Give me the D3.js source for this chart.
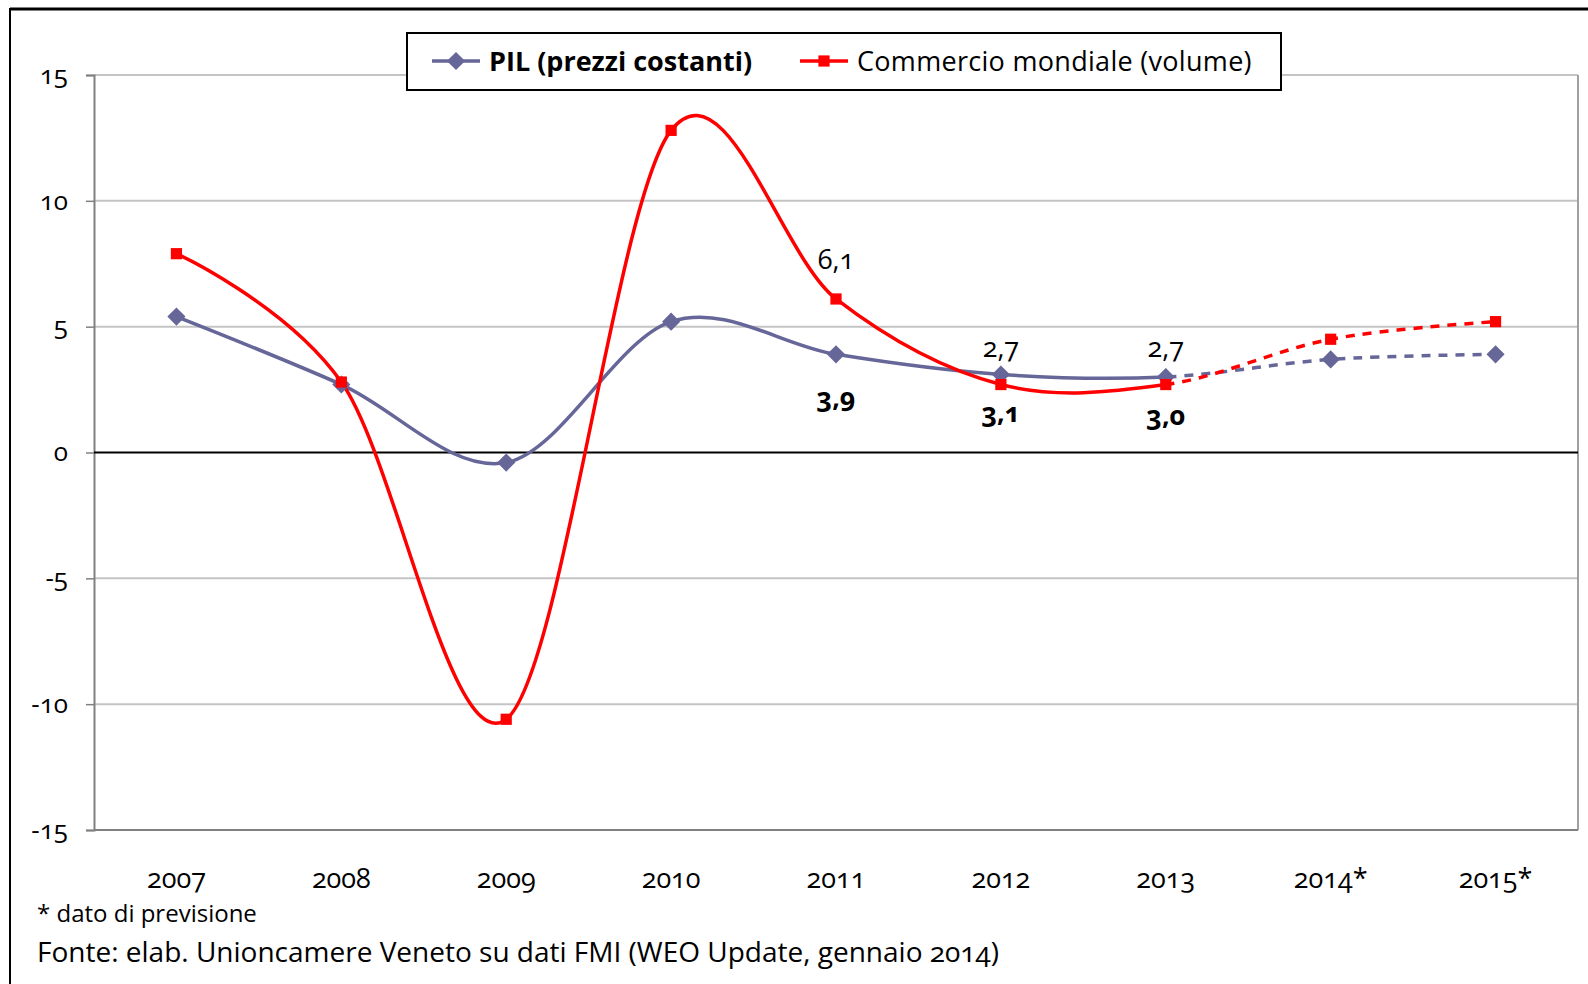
<!DOCTYPE html>
<html>
<head>
<meta charset="utf-8">
<script src="https://cdn.jsdelivr.net/npm/d3@7"></script>
<style>
    body { margin: 0; background: #fff; }
    svg { display: block; font-family: "Open Sans", "Lato", sans-serif; }
    .num { font-variant-numeric: oldstyle-nums; font-feature-settings: "onum"; }
</style>
</head>
<body>
<div id="vis"></div>
<script>
const years = ['2007', '2008', '2009', '2010', '2011', '2012', '2013', '2014*', '2015*'];
const pil = [5.4, 2.7, -0.4, 5.2, 3.9, 3.1, 3.0, 3.7, 3.9];
const commercio = [7.9, 2.8, -10.6, 12.8, 6.1, 2.7, 2.7, 4.5, 5.2];
const yTicks = [15, 10, 5, 0, -5, -10, -15];
const lastActual = '2013';  // after this the values are forecasts

// value labels as they sit in the picture (offset from their own point)
const labels = [
    { year: '2011', value: 6.1, bold: false, dy: -30 },
    { year: '2011', value: 3.9, bold: true, dy: 53 },
    { year: '2012', value: 2.7, bold: false, dy: -28 },
    { year: '2012', value: 3.1, bold: true, dy: 48 },
    { year: '2013', value: 2.7, bold: false, dy: -28 },
    { year: '2013', value: 3.0, bold: true, dy: 48 }
];

const W = 1588, H = 984;
const plot = { left: 94, right: 1578, top: 75, bottom: 830 };

const svg = d3.select('#vis')
    .append('svg')
    .attr('width', W)
    .attr('height', H);

const xScale = d3.scaleBand()
    .domain(years)
    .range([plot.left, plot.right]);
const xPos = d => xScale(d) + xScale.bandwidth() / 2;

const yScale = d3.scaleLinear()
    .domain([-15, 15])
    .range([plot.bottom, plot.top]);

// outer frame of the chart
svg.append('line')
    .attr('x1', 10).attr('x2', W).attr('y1', 9).attr('y2', 9)
    .attr('stroke', '#000').attr('stroke-width', 3);
svg.append('line')
    .attr('x1', 10).attr('x2', 10).attr('y1', 8).attr('y2', H)
    .attr('stroke', '#000').attr('stroke-width', 2);

// gridlines
svg.selectAll('.grid')
    .data(yTicks.filter(d => d !== 0 && d !== -15))
    .enter()
    .append('line')
    .attr('class', 'grid')
    .attr('x1', plot.left).attr('x2', plot.right)
    .attr('y1', d => yScale(d)).attr('y2', d => yScale(d))
    .attr('stroke', '#c4c4c4').attr('stroke-width', 2);

// right border of plot area
svg.append('line')
    .attr('x1', plot.right).attr('x2', plot.right)
    .attr('y1', plot.top).attr('y2', plot.bottom)
    .attr('stroke', '#a0a0a0').attr('stroke-width', 2);

// y axis
const yAxis = d3.axisLeft(yScale)
    .tickValues(yTicks)
    .tickSize(8)
    .tickPadding(18)
    .tickFormat(d => String(d));

const yG = svg.append('g')
    .attr('transform', `translate(${plot.left},0)`)
    .call(yAxis);
yG.select('.domain').attr('stroke', '#808080').attr('stroke-width', 2);
yG.selectAll('.tick line').attr('stroke', '#808080').attr('stroke-width', 1.5);
yG.selectAll('.tick text')
    .attr('class', 'num')
    .attr('font-size', 26)
    .attr('font-family', '"Open Sans", sans-serif')
    .attr('fill', '#000');

// x axis at the bottom (-15)
svg.append('line')
    .attr('x1', plot.left).attr('x2', plot.right)
    .attr('y1', plot.bottom).attr('y2', plot.bottom)
    .attr('stroke', '#808080').attr('stroke-width', 2);

// zero line
svg.append('line')
    .attr('x1', plot.left).attr('x2', plot.right)
    .attr('y1', yScale(0)).attr('y2', yScale(0))
    .attr('stroke', '#000').attr('stroke-width', 2);

svg.selectAll('.xlabel')
    .data(years)
    .enter()
    .append('text')
    .attr('class', 'xlabel num')
    .attr('x', d => xPos(d))
    .attr('y', 888)
    .attr('text-anchor', 'middle')
    .attr('font-size', 27)
    .text(d => d);

// clip areas: solid part up to 2013, dashed after
const defs = svg.append('defs');
defs.append('clipPath').attr('id', 'clipActual')
    .append('rect')
    .attr('x', 0).attr('y', 0)
    .attr('width', xPos(lastActual)).attr('height', H);
defs.append('clipPath').attr('id', 'clipForecast')
    .append('rect')
    .attr('x', xPos(lastActual)).attr('y', 0)
    .attr('width', W).attr('height', H);

const line = d3.line()
    .x((d, i) => xPos(years[i]))
    .y(d => yScale(d))
    .curve(d3.curveCardinal.tension(0));

const series = [
    { name: 'PIL (prezzi costanti)', values: pil, color: '#666699', marker: d3.symbolDiamond2, size: 210, bold: true },
    { name: 'Commercio mondiale (volume)', values: commercio, color: '#ff0000', marker: d3.symbolSquare2, size: 160, bold: false }
];

series.forEach(s => {
    svg.append('path')
        .attr('d', line(s.values))
        .attr('fill', 'none')
        .attr('stroke', s.color)
        .attr('stroke-width', 3.5)
        .attr('clip-path', 'url(#clipActual)');
    svg.append('path')
        .attr('d', line(s.values))
        .attr('fill', 'none')
        .attr('stroke', s.color)
        .attr('stroke-width', 3.5)
        .attr('stroke-dasharray', '9,8')
        .attr('clip-path', 'url(#clipForecast)');
});

series.forEach(s => {
    svg.selectAll(null)
        .data(s.values)
        .enter()
        .append('path')
        .attr('transform', (d, i) => `translate(${xPos(years[i])},${yScale(d)})`)
        .attr('d', d3.symbol().type(s.marker).size(s.size))
        .attr('fill', s.color);
});

// value labels
svg.selectAll('.vlabel')
    .data(labels)
    .enter()
    .append('text')
    .attr('class', 'vlabel num')
    .attr('x', d => xPos(d.year))
    .attr('y', d => yScale(d.value) + d.dy)
    .attr('text-anchor', 'middle')
    .attr('font-size', 27)
    .attr('font-weight', d => d.bold ? 'bold' : 'normal')
    .text(d => d3.format('.1f')(d.value).replace('.', ','));

// legend
const legend = svg.append('g').attr('class', 'legend');
legend.append('rect')
    .attr('x', 407).attr('y', 33)
    .attr('width', 874).attr('height', 57)
    .attr('fill', '#fff')
    .attr('stroke', '#000').attr('stroke-width', 2);

const legendX = [432, 800];
series.forEach((s, i) => {
    const g = legend.append('g').attr('transform', `translate(${legendX[i]},61)`);
    g.append('line')
        .attr('x1', 0).attr('x2', 48)
        .attr('stroke', s.color).attr('stroke-width', 3.5);
    g.append('path')
        .attr('transform', 'translate(24,0)')
        .attr('d', d3.symbol().type(s.marker).size(s.size))
        .attr('fill', s.color);
    g.append('text')
        .attr('x', 57)
        .attr('y', 10)
        .attr('font-size', 27)
        .attr('letter-spacing', s.bold ? 0 : 0.3)
        .attr('font-weight', s.bold ? 'bold' : 'normal')
        .text(s.name);
});

// notes
svg.append('text')
    .attr('x', 37).attr('y', 922)
    .attr('font-size', 24)
    .text('* dato di previsione');
svg.append('text')
    .attr('class', 'num')
    .attr('x', 37).attr('y', 962)
    .attr('font-size', 28)
    .text('Fonte: elab. Unioncamere Veneto su dati FMI (WEO Update, gennaio 2014)');
</script>
</body>
</html>
